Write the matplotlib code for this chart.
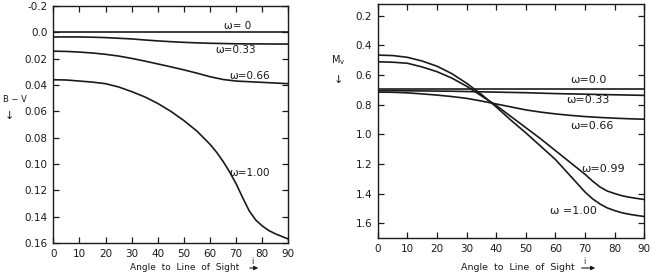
import numpy as np
import matplotlib
matplotlib.use('Agg')
import matplotlib.pyplot as plt

# ---- left panel: B-V vs angle ----
ang_bv = [0, 5, 10, 15, 20, 25, 30, 35, 40, 45, 50, 55, 60, 65, 70, 75, 80, 85, 90]
bv_w0 = [0.0] * len(ang_bv)
bv_w033 = [0.0035, 0.0035, 0.0035, 0.0037, 0.004, 0.0045, 0.005, 0.0058, 0.0065, 0.0071,
           0.0076, 0.008, 0.0083, 0.0085, 0.0087, 0.0088, 0.0088, 0.0089, 0.0089]
bv_w066 = [0.0143, 0.0145, 0.015, 0.0157, 0.0167, 0.018, 0.0198, 0.0218, 0.024, 0.0262,
           0.0285, 0.031, 0.0337, 0.0358, 0.037, 0.0375, 0.038, 0.0385, 0.039]
ang_bv100 = [0, 5, 10, 15, 20, 25, 30, 35, 40, 45, 50, 55, 60, 62.5, 65, 67.5, 70,
             72.5, 75, 77.5, 80, 82.5, 85, 87.5, 90]
bv_w100 = [0.036, 0.0362, 0.037, 0.0378, 0.039, 0.0415, 0.045, 0.049, 0.054, 0.060,
           0.067, 0.075, 0.085, 0.091, 0.098, 0.106, 0.115, 0.1255, 0.1355, 0.1425,
           0.147, 0.1505, 0.153, 0.155, 0.157]
bv_ticks = [-0.02, 0.0, 0.02, 0.04, 0.06, 0.08, 0.10, 0.12, 0.14, 0.16]
bv_ticklabels = ['-0.2', '0.0', '0.02', '0.04', '0.06', '0.08', '0.10', '0.12', '0.14', '0.16']

# ---- right panel: Mv vs angle ----
ang_mv = [0, 5, 10, 15, 20, 25, 30, 35, 40, 45, 50, 55, 60, 65, 70, 75, 80, 85, 90]
mv_w0 = [0.695] * len(ang_mv)
mv_w033 = [0.705, 0.705, 0.706, 0.707, 0.708, 0.709, 0.711, 0.713, 0.715, 0.717,
           0.719, 0.722, 0.725, 0.727, 0.729, 0.731, 0.733, 0.735, 0.737]
mv_w066 = [0.715, 0.716, 0.72, 0.727, 0.735, 0.745, 0.757, 0.775, 0.795, 0.815,
           0.835, 0.85, 0.862, 0.872, 0.88, 0.886, 0.891, 0.895, 0.898]
ang_mv_steep = [0, 5, 10, 15, 20, 25, 30, 35, 40, 45, 50, 55, 60, 65, 70, 72.5, 75,
                77.5, 80, 82.5, 85, 87.5, 90]
mv_w099 = [0.51, 0.513, 0.52, 0.545, 0.577, 0.62, 0.675, 0.74, 0.805, 0.88,
           0.955, 1.03, 1.11, 1.19, 1.27, 1.315, 1.355, 1.383, 1.40, 1.415, 1.425,
           1.433, 1.44]
mv_w100 = [0.465, 0.468, 0.48, 0.505, 0.54, 0.59, 0.655, 0.73, 0.815, 0.905,
           0.99, 1.08, 1.17, 1.28, 1.39, 1.435, 1.47, 1.497, 1.515, 1.53, 1.54,
           1.548, 1.555]
mv_ticks = [0.2, 0.4, 0.6, 0.8, 1.0, 1.2, 1.4, 1.6]
mv_ticklabels = ['0.2', '0.4', '0.6', '0.8', '1.0', '1.2', '1.4', '1.6']

x_ticks = [0, 10, 20, 30, 40, 50, 60, 70, 80, 90]

plt.rcParams['font.family'] = ['DejaVu Sans']
ink = '#1a1a1a'
lw = 1.2
fs = 7.5

fig = plt.figure(figsize=(6.63, 2.74), dpi=100)
ax1 = fig.add_axes([0.0804, 0.1131, 0.3545, 0.865])
ax2 = fig.add_axes([0.5697, 0.1314, 0.4021, 0.854])

for ax in (ax1, ax2):
    ax.set_xlim(0, 90)
    ax.set_xticks(x_ticks)
    ax.tick_params(direction='in', top=True, right=True, length=4, width=0.9,
                   labelsize=fs, colors=ink, pad=4)
    for s in ax.spines.values():
        s.set_linewidth(1.0)
        s.set_color(ink)

# left
ax1.plot(ang_bv, bv_w0, color=ink, lw=lw)
ax1.plot(ang_bv, bv_w033, color=ink, lw=lw)
ax1.plot(ang_bv, bv_w066, color=ink, lw=lw)
ax1.plot(ang_bv100, bv_w100, color=ink, lw=lw)
ax1.set_ylim(0.16, -0.02)
ax1.set_yticks(bv_ticks)
ax1.set_yticklabels(bv_ticklabels)
ax1.text(70.7, -0.005, 'ω= 0', ha='center', va='center', fontsize=fs, color=ink)
ax1.text(70.0, 0.0132, 'ω=0.33', ha='center', va='center', fontsize=fs, color=ink)
ax1.text(75.3, 0.0335, 'ω=0.66', ha='center', va='center', fontsize=fs, color=ink)
ax1.text(75.3, 0.107, 'ω=1.00', ha='center', va='center', fontsize=fs, color=ink)

# right
ax2.plot(ang_mv, mv_w0, color=ink, lw=lw)
ax2.plot(ang_mv, mv_w033, color=ink, lw=lw)
ax2.plot(ang_mv, mv_w066, color=ink, lw=lw)
ax2.plot(ang_mv_steep, mv_w099, color=ink, lw=lw)
ax2.plot(ang_mv_steep, mv_w100, color=ink, lw=lw)
ax2.set_ylim(1.70, 0.12)
ax2.set_yticks(mv_ticks)
ax2.set_yticklabels(mv_ticklabels)
ax2.text(71.1, 0.634, 'ω=0.0', ha='center', va='center', fontsize=fs + 0.5, color=ink)
ax2.text(71.1, 0.769, 'ω=0.33', ha='center', va='center', fontsize=fs + 0.5, color=ink)
ax2.text(72.2, 0.945, 'ω=0.66', ha='center', va='center', fontsize=fs + 0.5, color=ink)
ax2.text(76.2, 1.237, 'ω=0.99', ha='center', va='center', fontsize=fs + 0.5, color=ink)
ax2.text(66.0, 1.519, 'ω =1.00', ha='center', va='center', fontsize=fs + 0.5, color=ink)

W, H = 663.0, 274.0

def fx(px):
    return px / W

def fy(py):
    return 1 - py / H

# axis titles
fig.text(fx(185), fy(268), 'Angle  to  Line  of  Sight', ha='center', va='center',
         fontsize=6.5, color=ink)
fig.text(fx(518), fy(268), 'Angle  to  Line  of  Sight', ha='center', va='center',
         fontsize=6.8, color=ink)
for x0, x1, xi in ((247, 261, 252), (579, 598, 584)):
    fig.add_artist(matplotlib.patches.FancyArrowPatch(
        (fx(x0), fy(268)), (fx(x1), fy(268)), transform=fig.transFigure,
        arrowstyle='-|>', mutation_scale=6, lw=0.8, color=ink))
    fig.text(fx(xi), fy(262), 'i', ha='center', va='center', fontsize=5.5, color=ink)

fig.text(fx(3), fy(100), 'B − V', ha='left', va='center', fontsize=6, color=ink)
fig.text(fx(9), fy(116), '↓', ha='center', va='center', fontsize=8, color=ink)
fig.text(fx(338), fy(60), r'M$_\mathrm{v}$', ha='center', va='center', fontsize=7, color=ink)
fig.text(fx(338), fy(80), '↓', ha='center', va='center', fontsize=8, color=ink)

fig.savefig('out.png', dpi=100)
